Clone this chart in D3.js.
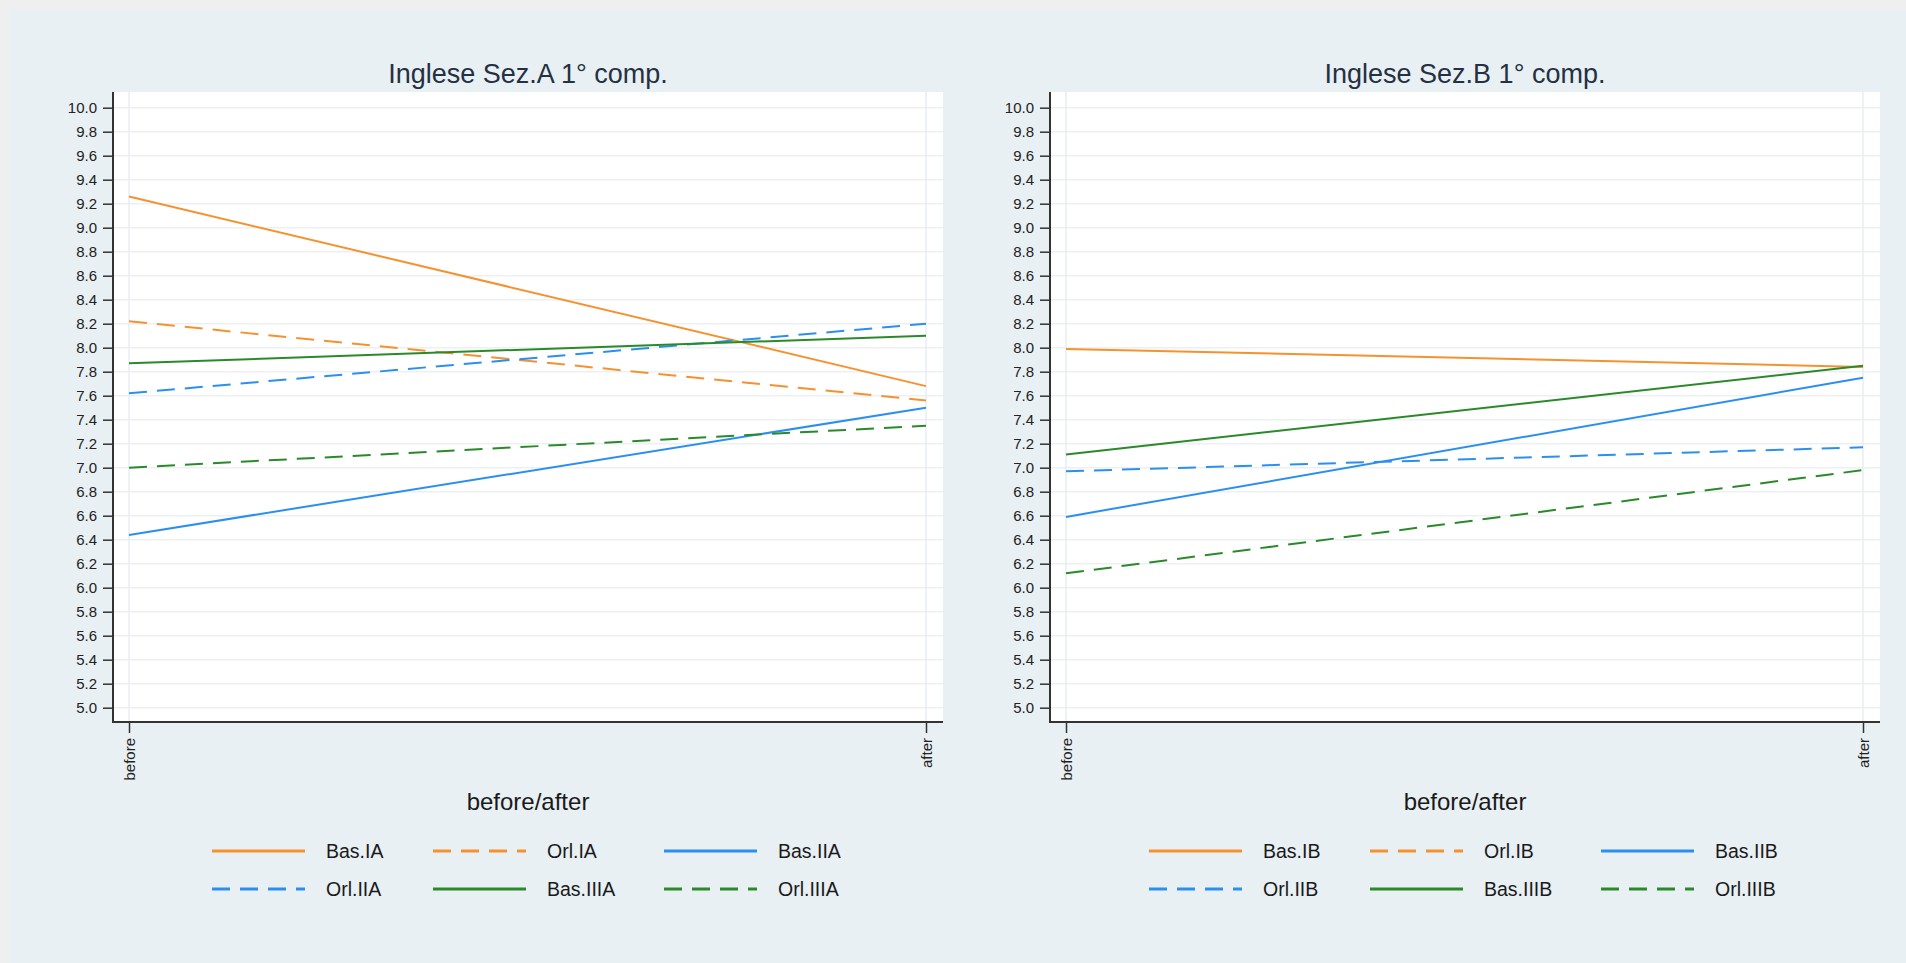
<!DOCTYPE html>
<html>
<head>
<meta charset="utf-8">
<script src="https://cdn.jsdelivr.net/npm/d3@7"></script>
<style>
  html, body { margin: 0; padding: 0; background: #efefef; }
  svg { display: block; }
  text { font-family: "Liberation Sans", Arial, sans-serif; }
</style>
</head>
<body>
<svg id="chart" width="1906" height="963"></svg>
<script>
// ---- data ----
const categories = ["before", "after"];
const yTicks = d3.range(0, 26).map(i => +(5 + i * 0.2).toFixed(1));

const titleA = "Inglese Sez.A 1° comp.";
const seriesNamesA = ["Bas.IA", "Orl.IA", "Bas.IIA", "Orl.IIA", "Bas.IIIA", "Orl.IIIA"];
const basIA   = [9.26, 7.68];
const orlIA   = [8.22, 7.56];
const basIIA  = [6.44, 7.50];
const orlIIA  = [7.62, 8.20];
const basIIIA = [7.87, 8.10];
const orlIIIA = [7.00, 7.35];

const titleB = "Inglese Sez.B 1° comp.";
const seriesNamesB = ["Bas.IB", "Orl.IB", "Bas.IIB", "Orl.IIB", "Bas.IIIB", "Orl.IIIB"];
const basIB   = [7.99, 7.84];
const orlIB   = [null, null];
const basIIB  = [6.59, 7.75];
const orlIIB  = [6.97, 7.17];
const basIIIB = [7.11, 7.85];
const orlIIIB = [6.12, 6.98];

const xAxisTitle = "before/after";

// ---- styles ----
const colors = ["#f5922f", "#f5922f", "#2b8ff2", "#2b8ff2", "#2a8a2a", "#2a8a2a"];
const dashed = [false, true, false, true, false, true];

const svg = d3.select("#chart");
// panel background
svg.append("rect").attr("x", 9).attr("y", 9).attr("width", 1906 - 9).attr("height", 963 - 9)
  .attr("fill", "#e8f0f3");

function drawPanel(left, title, names, values) {
  const plotL = left, plotR = left + 830, plotT = 92, plotB = 722;
  const x = d3.scalePoint().domain(categories).range([plotL + 16, plotR - 17]);
  const y = d3.scaleLinear().domain([5, 10]).range([707.7, 107.7]);

  const g = svg.append("g");
  g.append("rect").attr("x", plotL).attr("y", plotT).attr("width", plotR - plotL).attr("height", plotB - plotT)
    .attr("fill", "#ffffff");

  // horizontal grid
  g.append("g").selectAll("line").data(yTicks).join("line")
    .attr("x1", plotL).attr("x2", plotR)
    .attr("y1", d => y(d)).attr("y2", d => y(d))
    .attr("stroke", "#edf0f2").attr("stroke-width", 1.5);
  // vertical grid
  g.append("g").selectAll("line").data(categories).join("line")
    .attr("x1", d => x(d)).attr("x2", d => x(d))
    .attr("y1", plotT).attr("y2", plotB)
    .attr("stroke", "#e6eef2").attr("stroke-width", 1.5);

  // y axis
  const yAxis = d3.axisLeft(y).tickValues(yTicks).tickFormat(d3.format(".1f")).tickSize(10).tickPadding(6);
  const ya = g.append("g").attr("transform", `translate(${plotL},0)`).call(yAxis);
  ya.select(".domain").remove();
  ya.selectAll(".tick line").attr("stroke", "#333").attr("stroke-width", 1.5);
  ya.selectAll(".tick text").attr("fill", "#222").style("font-size", "15px")
    .style("font-family", "'Liberation Sans', Arial, sans-serif");
  g.append("line").attr("x1", plotL).attr("x2", plotL).attr("y1", plotT).attr("y2", plotB + 1)
    .attr("stroke", "#333").attr("stroke-width", 2);

  // x axis
  const xAxis = d3.axisBottom(x).tickSize(11).tickPadding(5);
  const xa = g.append("g").attr("transform", `translate(0,${plotB})`).call(xAxis);
  xa.select(".domain").remove();
  xa.selectAll(".tick line").attr("stroke", "#333").attr("stroke-width", 1.5);
  xa.selectAll(".tick text").attr("fill", "#222").style("font-size", "15px")
    .style("font-family", "'Liberation Sans', Arial, sans-serif")
    .attr("transform", "rotate(-90)")
    .attr("text-anchor", "end").attr("dy", "0.35em").attr("y", 0).attr("x", -16);
  g.append("line").attr("x1", plotL).attr("x2", plotR).attr("y1", plotB).attr("y2", plotB)
    .attr("stroke", "#333").attr("stroke-width", 2);

  // lines
  const line = d3.line().defined(d => d.v != null).x(d => x(d.c)).y(d => y(d.v));
  values.forEach((vals, i) => {
    const pts = categories.map((c, j) => ({ c, v: vals[j] }));
    g.append("path").datum(pts).attr("d", line)
      .attr("fill", "none").attr("stroke", colors[i]).attr("stroke-width", 2)
      .attr("stroke-dasharray", dashed[i] ? "18,10" : null);
  });

  // title
  g.append("text").attr("x", (plotL + plotR) / 2).attr("y", 83)
    .attr("text-anchor", "middle").attr("fill", "#253043").style("font-size", "27px").text(title);

  // x axis title
  g.append("text").attr("x", (plotL + plotR) / 2).attr("y", 810)
    .attr("text-anchor", "middle").attr("fill", "#1a1a1a").style("font-size", "24px").text(xAxisTitle);

  // legend
  const colX = [99, 320, 551];
  const rowY = [851, 889];
  names.forEach((n, i) => {
    const cx = plotL + colX[i % 3], cy = rowY[Math.floor(i / 3)];
    g.append("line").attr("x1", cx).attr("x2", cx + 93).attr("y1", cy).attr("y2", cy)
      .attr("stroke", colors[i]).attr("stroke-width", 3)
      .attr("stroke-dasharray", dashed[i] ? "18,10" : null);
    g.append("text").attr("x", cx + 114).attr("y", cy).attr("dy", "0.36em")
      .attr("fill", "#1a1a1a").style("font-size", "19.5px").text(n);
  });
}

drawPanel(113, titleA, seriesNamesA, [basIA, orlIA, basIIA, orlIIA, basIIIA, orlIIIA]);
drawPanel(1050, titleB, seriesNamesB, [basIB, orlIB, basIIB, orlIIB, basIIIB, orlIIIB]);
</script>
</body>
</html>
